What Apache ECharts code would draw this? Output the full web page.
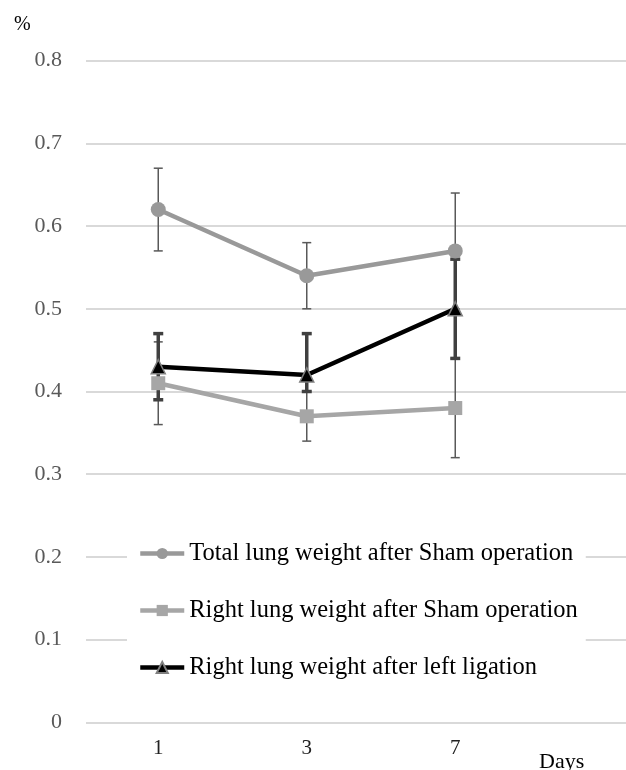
<!DOCTYPE html>
<html>
<head>
<meta charset="utf-8">
<script src="https://cdn.jsdelivr.net/npm/echarts@6/dist/echarts.min.js"></script>
<style>
  html, body { margin: 0; padding: 0; background: #fff; }
  #chart { width: 626px; height: 770px; }
</style>
</head>
<body>
<div id="chart"></div>
<script>
const days = ['1', '3', '7']
const yTicks = [0, 0.1, 0.2, 0.3, 0.4, 0.5, 0.6, 0.7, 0.8]

const seriesNames = [
  'Total lung weight after Sham operation',
  'Right lung weight after Sham operation',
  'Right lung weight after left ligation',
]

// means
const totalSham = [0.62, 0.54, 0.57]
const rightSham = [0.41, 0.37, 0.38]
const rightLigation = [0.43, 0.42, 0.5]

// error bar ends
const totalShamLow = [0.57, 0.5, 0.5]
const totalShamHigh = [0.67, 0.58, 0.64]
const rightShamLow = [0.36, 0.34, 0.32]
const rightShamHigh = [0.46, 0.4, 0.44]
const rightLigationLow = [0.39, 0.4, 0.44]
const rightLigationHigh = [0.47, 0.47, 0.56]

const font = 'Liberation Serif'

const errorBars = (name, low, high, color, width, cap) => ({
  name: name,
  type: 'custom',
  xAxisIndex: 1,
  yAxisIndex: 1,
  silent: true,
  z: 1,
  data: low.map((l, i) => [i, l, high[i]]),
  renderItem: (params, api) => {
    const x = api.value(0)
    const lo = api.coord([x, api.value(1)])
    const hi = api.coord([x, api.value(2)])
    const style = { stroke: color, lineWidth: width }
    return {
      type: 'group',
      children: [
        { type: 'line', shape: { x1: lo[0], y1: lo[1], x2: hi[0], y2: hi[1] }, style },
        { type: 'line', shape: { x1: hi[0] - cap, y1: hi[1], x2: hi[0] + cap, y2: hi[1] }, style },
        { type: 'line', shape: { x1: lo[0] - cap, y1: lo[1], x2: lo[0] + cap, y2: lo[1] }, style },
      ],
    }
  },
})

const yRange = { min: yTicks[0], max: yTicks[yTicks.length - 1], interval: 0.1 }

const chart = echarts.init(document.getElementById('chart'))
chart.setOption({
  animation: false,
  backgroundColor: '#fff',
  title: [
    { text: '%', left: 9, top: 10, textStyle: { fontFamily: font, fontSize: 20, fontWeight: 'normal', color: '#000' } },
    { text: 'Days', left: 534, top: 746, textStyle: { fontFamily: font, fontSize: 22, fontWeight: 'normal', color: '#000' } },
  ],
  // grid 0: full-width gridlines, grid 1: the plotted days
  grid: [
    { left: 86, right: 0, top: 60.7, bottom: 47.7 },
    { left: 84, width: 445.5, top: 60.7, bottom: 47.7 },
  ],
  legend: {
    orient: 'vertical',
    left: 127,
    top: 533,
    data: seriesNames,
    backgroundColor: '#fff',
    padding: [8, 8, 8, 11],
    itemWidth: 44,
    itemHeight: 14,
    itemGap: 32,
    lineStyle: { width: 4.5 },
    textStyle: { fontFamily: font, fontSize: 24.5, color: '#000' },
  },
  xAxis: [
    { type: 'category', gridIndex: 0, data: days, show: false },
    {
      type: 'category',
      gridIndex: 1,
      data: days,
      boundaryGap: true,
      axisLine: { show: false },
      axisTick: { show: false },
      axisLabel: { fontFamily: font, fontSize: 21, color: '#222', margin: 16 },
    },
  ],
  yAxis: [
    {
      type: 'value',
      gridIndex: 0,
      ...yRange,
      axisLine: { show: false },
      axisTick: { show: false },
      axisLabel: { fontFamily: font, fontSize: 22, color: '#595959', margin: 24 },
      splitLine: { lineStyle: { color: '#d9d9d9', width: 2 } },
    },
    { type: 'value', gridIndex: 1, ...yRange, show: false },
  ],
  series: [
    errorBars('eb0', totalShamLow, totalShamHigh, '#595959', 1.5, 4.5),
    errorBars('eb1', rightShamLow, rightShamHigh, '#595959', 1.5, 4.5),
    errorBars('eb2', rightLigationLow, rightLigationHigh, '#404040', 3.5, 5),
    {
      name: seriesNames[0],
      type: 'line',
      xAxisIndex: 1,
      yAxisIndex: 1,
      data: totalSham,
      symbol: 'circle',
      symbolSize: 15,
      color: '#999999',
      lineStyle: { color: '#999999', width: 4.5 },
      itemStyle: { color: '#999999' },
      z: 3,
    },
    {
      name: seriesNames[1],
      type: 'line',
      xAxisIndex: 1,
      yAxisIndex: 1,
      data: rightSham,
      symbol: 'rect',
      symbolSize: 14,
      color: '#a6a6a6',
      lineStyle: { color: '#a6a6a6', width: 4.5 },
      itemStyle: { color: '#a6a6a6' },
      z: 3,
    },
    {
      name: seriesNames[2],
      type: 'line',
      xAxisIndex: 1,
      yAxisIndex: 1,
      data: rightLigation,
      symbol: 'triangle',
      symbolSize: 14,
      color: '#000000',
      lineStyle: { color: '#000000', width: 4.5 },
      itemStyle: { color: '#000000', borderColor: '#7f7f7f', borderWidth: 1.5 },
      z: 4,
    },
  ],
})
</script>
</body>
</html>
